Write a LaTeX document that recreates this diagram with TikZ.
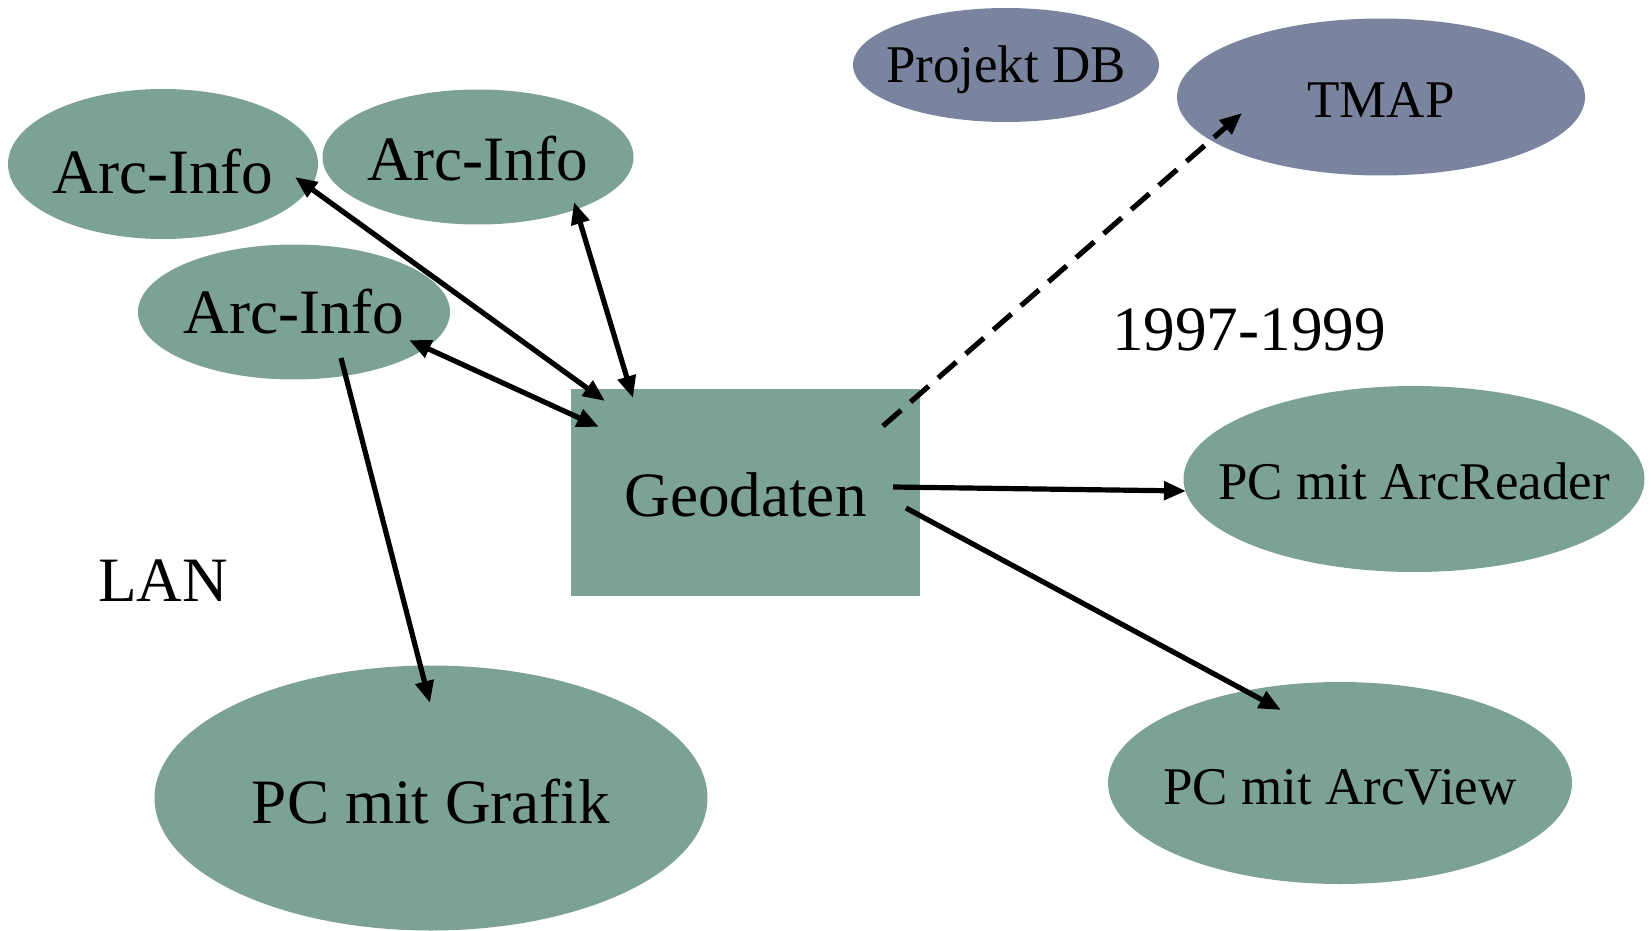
\documentclass[tikz,border=0pt]{standalone}
\usepackage{fontspec}
\setmainfont{Liberation Serif}
\usepackage{tikz}
\usetikzlibrary{arrows.meta}
\usetikzlibrary{shapes,calc,positioning}
\definecolor{gisgreen}{RGB}{124,161,151}
\definecolor{gisblue}{RGB}{122,132,158}
\tikzset{gis-node/.style={ellipse,fill=gisgreen,inner sep=0pt}}
\tikzset{db-node/.style={ellipse,fill=gisblue,inner sep=0pt}}
\tikzset{big-text/.style={font=\fontsize{31.6}{36}\selectfont}}
\tikzset{small-text/.style={font=\fontsize{26.5}{30}\selectfont}}
\tikzset{link/.style={line width=2.6pt,-{Triangle[length=11pt,width=9pt]}}}
\tikzset{both-link/.style={line width=2.6pt,{Triangle[length=11pt,width=9pt]}-{Triangle[length=11pt,width=9pt]}}}

\begin{document}
\begin{tikzpicture}[x=0.5pt,y=-0.5pt]
            \useasboundingbox (0,0) rectangle (1651,931);

            % hosts
            \node [gis-node,minimum width=155pt,minimum height=75pt,
                label={[big-text,yshift=-4pt]center:Arc-Info}] (info1) at (163,164) {};
            \node [gis-node,minimum width=155.5pt,minimum height=67.5pt,
                label={[big-text,yshift=-1pt]center:Arc-Info}] (info2) at (478,157) {};
            \node [gis-node,minimum width=156pt,minimum height=67.5pt,
                label={[big-text]center:Arc-Info}] (info3) at (294,312) {};
            \node [db-node,minimum width=153pt,minimum height=57pt,
                label={[small-text,yshift=-2.5pt]center:Projekt DB}] (projectdb) at (1006,65) {};
            \node [db-node,minimum width=204pt,minimum height=78.5pt,
                label={[small-text,yshift=-1.5pt]center:TMAP}] (tmap) at (1381,97) {};
            \node [fill=gisgreen,minimum width=174.5pt,minimum height=103.5pt,
                label={[big-text,yshift=-1pt]center:Geodaten}] (geodata) at (745.5,492.5) {};
            \node [gis-node,minimum width=230.5pt,minimum height=93pt,
                label={[small-text,yshift=-1pt]center:PC mit ArcReader}] (reader) at (1414,479) {};
            \node [gis-node,minimum width=232pt,minimum height=101pt,
                label={[small-text,yshift=-2pt]center:PC mit ArcView}] (viewer) at (1340,783) {};
            \node [gis-node,minimum width=276.5pt,minimum height=132.5pt,
                label={[big-text,yshift=-2pt]center:PC mit Grafik}] (graphics) at (431,798) {};

            \node [big-text] (lan) at (163,581) {LAN};
            \node [big-text] (years) at (1249,330) {1997-1999};

            % connections
            \draw [both-link] ($(info1)+(132,13)$) -- ($(geodata)+(-140.5,-91.5)$);
            \draw [both-link] ($(info2)+(96,45)$) -- ($(geodata)+(-112.5,-94.5)$);
            \draw [both-link] ($(info3)+(115,28)$) -- ($(geodata)+(-146.5,-65.5)$);
            \draw [link] ($(info3)+(47,46)$) -- ($(graphics)+(-1,-95)$);
            \draw [link,dash pattern=on 12pt off 6.3pt] ($(geodata)+(137.5,-66.5)$) -- ($(tmap)+(-139,16)$);
            \draw [link] ($(geodata)+(147.5,-5.5)$) -- ($(reader)+(-228,12)$);
            \draw [link] ($(geodata)+(160.5,15.5)$) -- ($(viewer)+(-59,-73)$);
        \end{tikzpicture}
\end{document}
